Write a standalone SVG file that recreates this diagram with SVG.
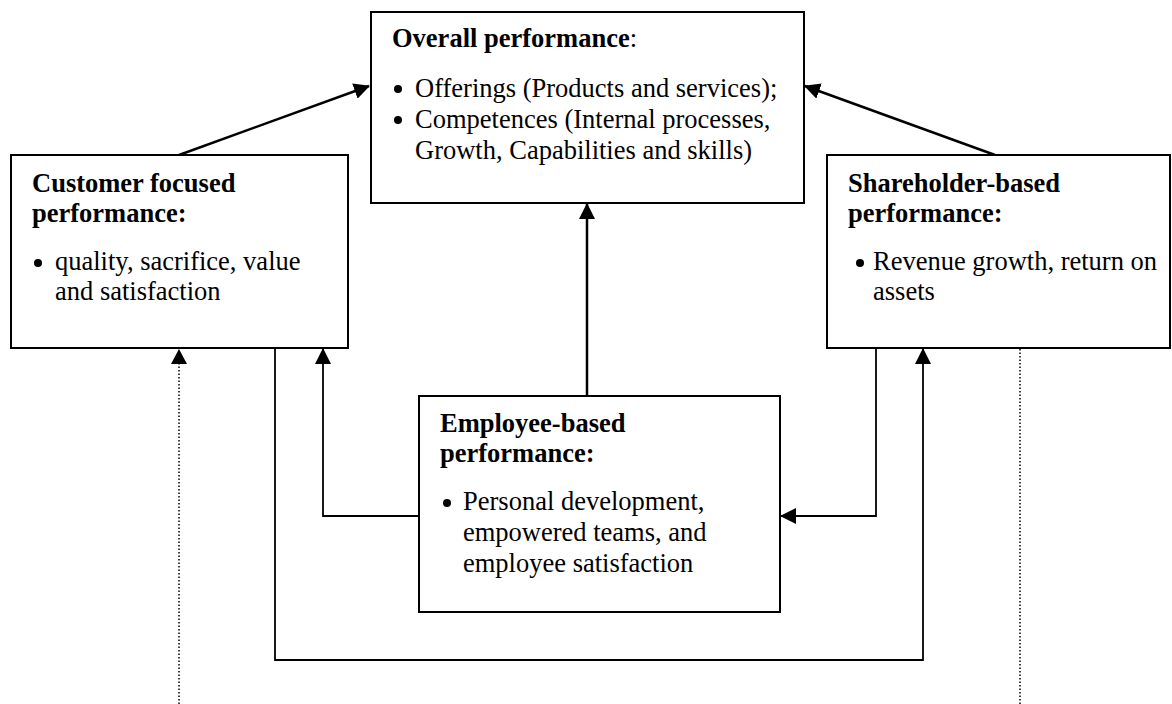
<svg xmlns="http://www.w3.org/2000/svg" width="1172" height="704" viewBox="0 0 1172 704">
<style>
.box{fill:#fff;stroke:#000;stroke-width:2}
.t{font-family:"Liberation Serif","Times New Roman",serif;font-size:26.5px;fill:#000}
.b{font-weight:bold}
.c{fill:none;stroke:#000;stroke-width:2.5}
.thin{fill:none;stroke:#000;stroke-width:1.8}
.dot{fill:none;stroke:#000;stroke-width:1.5;stroke-dasharray:1.5 2}
</style>
<defs>
<marker id="ah" viewBox="0 0 16 16" refX="15" refY="8" markerWidth="16" markerHeight="16" markerUnits="userSpaceOnUse" orient="auto">
<path d="M0,0 L16,8 L0,16 z" fill="#000"/>
</marker>
</defs>
<g id="connectors">
<line class="c" x1="179" y1="155" x2="369" y2="86" marker-end="url(#ah)"/>
<line class="c" x1="995" y1="155" x2="805" y2="86" marker-end="url(#ah)"/>
<line class="c" x1="587" y1="396" x2="587" y2="204" marker-end="url(#ah)"/>
<line class="dot" x1="179" y1="704" x2="179" y2="362"/>
<path d="M179,349 L171,364 L187,364 z" fill="#000"/>
<polyline class="thin" points="275,348 275,660 923,660 923,349" marker-end="url(#ah)"/>
<polyline class="thin" points="419,516 323,516 323,349" marker-end="url(#ah)"/>
<polyline class="thin" points="876,348 876,516 781,516" marker-end="url(#ah)"/>
<line class="dot" x1="1020" y1="349" x2="1020" y2="704"/>
</g>
<g id="overall">
<rect class="box" x="371" y="12" width="433" height="191"/>
<text class="t" x="392" y="47"><tspan class="b">Overall performance</tspan>:</text>
<circle cx="398" cy="89" r="4"/>
<text class="t" x="415" y="97">Offerings (Products and services);</text>
<circle cx="398" cy="120" r="4"/>
<text class="t" x="415" y="128">Competences (Internal processes,</text>
<text class="t" x="415" y="159">Growth, Capabilities and skills)</text>
</g>
<g id="customer">
<rect class="box" x="11" y="155" width="337" height="193"/>
<text class="t b" x="32" y="192">Customer focused</text>
<text class="t b" x="32" y="222">performance:</text>
<circle cx="38" cy="263" r="4"/>
<text class="t" x="55" y="270">quality, sacrifice, value</text>
<text class="t" x="55" y="300">and satisfaction</text>
</g>
<g id="shareholder">
<rect class="box" x="827" y="155" width="343" height="193"/>
<text class="t b" x="848" y="192">Shareholder-based</text>
<text class="t b" x="848" y="222">performance:</text>
<circle cx="860" cy="263" r="4"/>
<text class="t" x="873" y="270">Revenue growth, return on</text>
<text class="t" x="873" y="300">assets</text>
</g>
<g id="employee">
<rect class="box" x="419" y="396" width="361" height="216"/>
<text class="t b" x="440" y="432">Employee-based</text>
<text class="t b" x="440" y="462">performance:</text>
<circle cx="447" cy="503" r="4"/>
<text class="t" x="463" y="510">Personal development,</text>
<text class="t" x="463" y="541">empowered teams, and</text>
<text class="t" x="463" y="572">employee satisfaction</text>
</g>
</svg>
